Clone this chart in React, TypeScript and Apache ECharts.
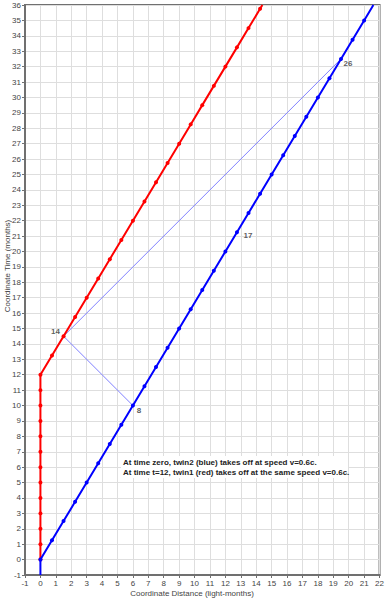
import React, { useEffect, useRef } from "react";
import * as echarts from "echarts";

// Twin2 (blue) world line: x in light-months, t in months
const blueX = [0, 0, 0.75, 1.5, 2.25, 3, 3.75, 4.5, 5.25, 6, 6.75, 7.5, 8.25, 9, 9.75, 10.5, 11.25, 12, 12.75, 13.5, 14.25, 15, 15.75, 16.5, 17.25, 18, 18.75, 19.5, 20.25, 21, 21.6];
const blueT = [-1, 0, 1.25, 2.5, 3.75, 5, 6.25, 7.5, 8.75, 10, 11.25, 12.5, 13.75, 15, 16.25, 17.5, 18.75, 20, 21.25, 22.5, 23.75, 25, 26.25, 27.5, 28.75, 30, 31.25, 32.5, 33.75, 35, 36];

// Twin1 (red) world line
const redX = [0, 0, 0, 0, 0, 0, 0, 0, 0, 0, 0, 0, 0, 0.75, 1.5, 2.25, 3, 3.75, 4.5, 5.25, 6, 6.75, 7.5, 8.25, 9, 9.75, 10.5, 11.25, 12, 12.75, 13.5, 14.25, 14.4];
const redT = [0, 1, 2, 3, 4, 5, 6, 7, 8, 9, 10, 11, 12, 13.25, 14.5, 15.75, 17, 18.25, 19.5, 20.75, 22, 23.25, 24.5, 25.75, 27, 28.25, 29.5, 30.75, 32, 33.25, 34.5, 35.75, 36];

// Light signals
const signal1X = [6, 1.5];
const signal1T = [10, 14.5];
const signal2X = [1.5, 19.5];
const signal2T = [14.5, 32.5];

// Proper-time labels
const labelNames = ["14", "8", "17", "26"];
const labelX = [1.5, 6, 12.75, 19.5];
const labelT = [14.5, 10, 21.25, 32.5];

const noteLines = [
  "At time zero, twin2 (blue) takes off at speed v=0.6c.",
  "At time t=12, twin1 (red) takes off at the same speed v=0.6c.",
];

const xName = "Coordinate Distance (light-months)";
const yName = "Coordinate Time (months)";

const FONT = "Liberation Sans";

function worldLine(xs: number[], ts: number[]) {
  return xs.map((x, i) => {
    const t = ts[i];
    if (t === -1 || t === 36) return { value: [x, t], symbol: "none" };
    return { value: [x, t] };
  });
}

const labelOffsets: Record<string, number[]> = {
  "14": [-8, -5],
  "8": [6, 5],
  "17": [11, 3],
  "26": [7, 5],
};

export default function App() {
  const ref = useRef<HTMLDivElement>(null);
  useEffect(() => {
    if (!ref.current) return;
    const chart = echarts.init(ref.current, undefined, { renderer: "svg" });
    const axisCommon = {
      type: "value" as const,
      interval: 1,
      axisLine: { show: true, onZero: false, lineStyle: { color: "#707070", width: 2 } },
      axisTick: { show: true, length: 3, lineStyle: { color: "#707070" } },
      axisLabel: { fontSize: 8, color: "#444", fontFamily: FONT, margin: 4 },
      splitLine: { show: true, lineStyle: { color: "#dedede", width: 1 } },
    };
    chart.setOption({
      animation: false,
      backgroundColor: "#ffffff",
      grid: {
        left: 25,
        right: 7,
        top: 5,
        bottom: 25,
        show: true,
        borderColor: "#707070",
        borderWidth: 2,
        backgroundColor: "transparent",
      },
      xAxis: { ...axisCommon, min: -1, max: 22 },
      yAxis: { ...axisCommon, min: -1, max: 36 },
      graphic: [
        {
          type: "rect",
          shape: { x: 121, y: 456, width: 227, height: 22 },
          style: { fill: "#ffffff" },
          z: 50,
        },
        {
          type: "text",
          x: 123,
          y: 457,
          z: 51,
          style: {
            text: noteLines.join("\n"),
            font: `bold 8px "${FONT}"`,
            fill: "#222",
            lineHeight: 10,
          },
        },
        {
          type: "text",
          x: 192,
          y: 593,
          style: {
            text: xName,
            font: `8px "${FONT}"`,
            fill: "#444",
            textAlign: "center",
            textVerticalAlign: "middle",
          },
        },
        {
          type: "text",
          x: 7,
          y: 266,
          rotation: Math.PI / 2,
          style: {
            text: yName,
            font: `8px "${FONT}"`,
            fill: "#444",
            textAlign: "center",
            textVerticalAlign: "middle",
          },
        },
      ],
      series: [
        {
          type: "line",
          data: signal1X.map((x, i) => [x, signal1T[i]]),
          showSymbol: false,
          symbol: "none",
          lineStyle: { color: "#8080ff", width: 1 },
          z: 2,
        },
        {
          type: "line",
          data: signal2X.map((x, i) => [x, signal2T[i]]),
          showSymbol: false,
          symbol: "none",
          lineStyle: { color: "#8080ff", width: 1 },
          z: 2,
        },
        {
          type: "line",
          data: worldLine(redX, redT),
          symbol: "circle",
          symbolSize: 4,
          showAllSymbol: true,
          itemStyle: { color: "#ff0000" },
          lineStyle: { color: "#ff0000", width: 2 },
          z: 3,
        },
        {
          type: "line",
          data: worldLine(blueX, blueT),
          symbol: "circle",
          symbolSize: 4,
          showAllSymbol: true,
          itemStyle: { color: "#0000ff" },
          lineStyle: { color: "#0000ff", width: 2 },
          z: 4,
        },
        {
          type: "scatter",
          symbolSize: 0,
          z: 5,
          data: labelNames.map((n, i) => ({
            name: n,
            value: [labelX[i], labelT[i]],
            label: {
              show: true,
              formatter: n,
              position: "inside",
              offset: labelOffsets[n],
              fontSize: 8,
              fontWeight: "bold",
              fontFamily: FONT,
              color: "#333",
            },
          })),
        },
      ],
    });
    return () => chart.dispose();
  }, []);
  return (
    <div
      ref={ref}
      style={{ position: "fixed", left: 0, top: 0, width: 387, height: 600 }}
    />
  );
}
